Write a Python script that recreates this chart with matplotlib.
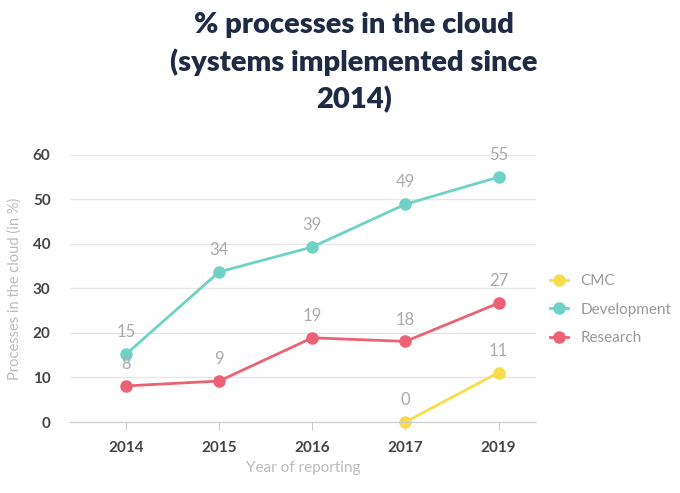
import matplotlib.pyplot as plt
import numpy as np

years = ["2014", "2015", "2016", "2017", "2019"]
development = [15.2, 33.7, 39.3, 48.9, 55.0]
research = [8.1, 9.2, 18.9, 18.1, 26.7]
cmc_years = ["2017", "2019"]
cmc = [0, 11.1]
dev_labels = ["15", "34", "39", "49", "55"]
res_labels = ["8", "9", "19", "18", "27"]
cmc_labels = ["0", "11"]

plt.rcParams['font.family'] = ['Lato', 'DejaVu Sans']
fig = plt.figure(figsize=(6.8, 4.93), dpi=100)
ax = fig.add_axes([0.103, 0.144, 0.685, 0.542])

x = np.arange(len(years))
cx = [years.index(y) for y in cmc_years]
series = [
    ("CMC", cx, cmc, cmc_labels, "#F7DC4C"),
    ("Development", x, development, dev_labels, "#6ED3C4"),
    ("Research", x, research, res_labels, "#EC6275"),
]
for name, xs, ys, labs, col in series:
    ax.plot(xs, ys, color=col, lw=2, marker='o', ms=8, label=name, clip_on=False)
    for xi, yi, lb in zip(xs, ys, labs):
        ax.annotate(lb, (xi, yi), xytext=(0, 10), textcoords='offset points',
                    ha='center', va='bottom', color='#AAAAAA', fontsize=12)

ax.set_xlim(-0.6, 4.4)
ax.set_ylim(0, 60)
ax.set_xticks(x)
ax.set_xticklabels(years, fontsize=11, color='#444444', fontweight='bold')
ax.set_yticks(range(0, 61, 10))
ax.tick_params(axis='y', labelsize=11, labelcolor='#444444', length=0, pad=14)
for lb in ax.get_yticklabels():
    lb.set_fontweight('bold')
ax.tick_params(axis='x', length=6, color='#CCCCCC', pad=8)
ax.grid(axis='y', color='#E6E6E6', lw=1)
ax.set_axisbelow(True)
for s in ['top', 'right', 'left']:
    ax.spines[s].set_visible(False)
ax.spines['bottom'].set_color('#CCCCCC')
ax.set_xlabel("Year of reporting", color='#BBBBBB', fontsize=11, labelpad=4)
ax.set_ylabel("Processes in the cloud (in %)", color='#BBBBBB', fontsize=10.5, labelpad=8)

leg = ax.legend(loc='center left', bbox_to_anchor=(1.0, 0.42), frameon=False,
                fontsize=11, handlelength=1.2, labelspacing=0.95)
for t in leg.get_texts():
    t.set_color('#999999')

fig.text(0.52, 0.975, "% processes in the cloud\n(systems implemented since\n2014)",
         ha='center', va='top', fontsize=21, fontweight='heavy', color='#1F2A44',
         linespacing=1.45)
fig.savefig("out.png", dpi=100)
